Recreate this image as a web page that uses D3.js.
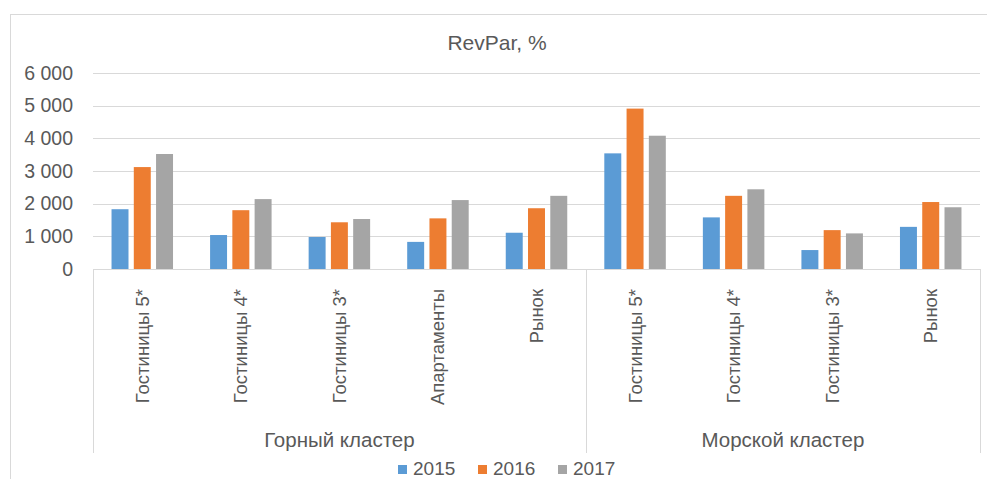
<!DOCTYPE html>
<html>
<head>
<meta charset="utf-8">
<script src="https://cdn.jsdelivr.net/npm/d3@7"></script>
<style>
  html, body { margin: 0; padding: 0; background: #fff; }
  svg { display: block; font-family: "Liberation Sans", Arial, sans-serif; }
</style>
</head>
<body>
<svg id="chart" width="987" height="479"></svg>
<script>
const title = "RevPar, %";
const clusters = ["Горный кластер", "Морской кластер"];
const categories = ["Гостиницы 5*", "Гостиницы 4*", "Гостиницы 3*", "Апартаменты", "Рынок",
                    "Гостиницы 5*", "Гостиницы 4*", "Гостиницы 3*", "Рынок"];
const years = ["2015", "2016", "2017"];
const values2015 = [1830, 1040, 980, 830, 1110, 3540, 1580, 580, 1290];
const values2016 = [3120, 1800, 1430, 1550, 1860, 4910, 2240, 1190, 2050];
const values2017 = [3520, 2140, 1530, 2110, 2240, 4080, 2440, 1090, 1890];
const yTicks = [0, 1000, 2000, 3000, 4000, 5000, 6000];
const colors = ["#5b9bd5", "#ed7d31", "#a5a5a5"];

const series = [values2015, values2016, values2017];
const svg = d3.select("#chart");
const textColor = "#595959";

const pLeft = 93, pRight = 980, pTop = 73, pBottom = 269;
const ids = categories.map((c, i) => i);

const x0 = d3.scaleBand().domain(ids).range([pLeft, pRight]).paddingInner(0.376).paddingOuter(0.188);
const x1 = d3.scaleBand().domain(years).range([0, x0.bandwidth()]).paddingInner(0.238);
const y = d3.scaleLinear().domain([0, 6000]).range([pBottom, pTop]);

const fmt = d3.formatLocale({decimal: ",", thousands: " ", grouping: [3], currency: ["", ""]}).format(",d");

// outer border
svg.append("rect").attr("x", 10.5).attr("y", 14.5).attr("width", 990).attr("height", 500)
  .attr("fill", "none").attr("stroke", "#d9d9d9").attr("stroke-width", 1);

// title
svg.append("text").attr("x", 497).attr("y", 50).attr("text-anchor", "middle")
  .attr("font-size", 21).attr("fill", textColor).text(title);

// gridlines
svg.append("g").selectAll("line").data(yTicks.filter(d => d > 0)).join("line")
  .attr("x1", pLeft).attr("x2", pRight)
  .attr("y1", d => Math.round(y(d)) + 0.5).attr("y2", d => Math.round(y(d)) + 0.5)
  .attr("stroke", "#d9d9d9").attr("stroke-width", 1);

// y axis labels
const yAxis = d3.axisLeft(y).tickValues(yTicks).tickFormat(fmt).tickSize(0).tickPadding(0);
const gy = svg.append("g").attr("transform", `translate(${pLeft - 20},0)`).call(yAxis);
gy.select(".domain").remove();
gy.selectAll("text").attr("font-size", 19.5).attr("fill", textColor)
  .attr("font-family", "Liberation Sans, Arial, sans-serif");

// bars
const g = svg.append("g");
years.forEach((yr, si) => {
  g.append("g").selectAll("rect").data(series[si]).join("rect")
    .attr("x", (d, i) => x0(i) + x1(yr))
    .attr("width", x1.bandwidth())
    .attr("y", d => y(d))
    .attr("height", d => y(0) - y(d))
    .attr("fill", colors[si]);
});

// category axis baseline
svg.append("line").attr("x1", pLeft).attr("x2", pRight)
  .attr("y1", pBottom + 0.5).attr("y2", pBottom + 0.5)
  .attr("stroke", "#d9d9d9").attr("stroke-width", 1);

// group dividers
const groupBounds = [pLeft, x0.step() * 5 + pLeft, pRight];
svg.append("g").selectAll("line").data(groupBounds).join("line")
  .attr("x1", d => Math.round(d) + 0.5).attr("x2", d => Math.round(d) + 0.5)
  .attr("y1", pBottom).attr("y2", 453)
  .attr("stroke", "#d9d9d9").attr("stroke-width", 1);

// category labels
svg.append("g").selectAll("text").data(categories).join("text")
  .attr("transform", (d, i) => `translate(${x0(i) + x0.bandwidth() / 2},289) rotate(-90)`)
  .attr("text-anchor", "end").attr("dy", "0.35em")
  .attr("font-size", 18.5).attr("fill", textColor).text(d => d);

// cluster labels
svg.append("g").selectAll("text").data(clusters).join("text")
  .attr("x", (d, i) => (groupBounds[i] + groupBounds[i + 1]) / 2)
  .attr("y", 447).attr("text-anchor", "middle")
  .attr("font-size", 20.5).attr("fill", textColor).text(d => d);

// legend
const lg = svg.append("g");
years.forEach((yr, i) => {
  const lx = 398 + i * 80;
  lg.append("rect").attr("x", lx).attr("y", 465).attr("width", 9).attr("height", 9).attr("fill", colors[i]);
  lg.append("text").attr("x", lx + 15).attr("y", 475).attr("font-size", 19)
    .attr("fill", textColor).text(yr);
});
</script>
</body>
</html>
